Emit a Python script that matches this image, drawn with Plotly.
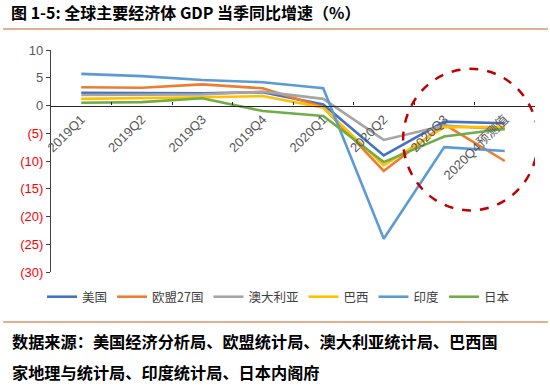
import plotly.graph_objects as go

quarters = ["2019Q1", "2019Q2", "2019Q3", "2019Q4", "2020Q1", "2020Q2", "2020Q3", "2020Q4预测值"]
us = [2.3, 2.3, 2.2, 2.4, 0.2, -9.0, -2.9, -3.2]
eu27 = [3.3, 3.2, 3.8, 3.1, -0.3, -11.8, -3.4, -10.0]
australia = [1.9, 1.9, 2.0, 2.5, 1.2, -6.2, -3.6, -4.3]
brazil = [1.2, 1.3, 1.5, 1.7, -0.4, -10.8, -3.9, -3.9]
india = [5.7, 5.3, 4.6, 4.2, 3.1, -24.0, -7.5, -8.2]
japan = [0.5, 0.6, 1.3, -1.0, -1.9, -10.2, -5.6, -4.2]

series = [
    ("美国", us, "#4472C4"),
    ("欧盟27国", eu27, "#ED7D31"),
    ("澳大利亚", australia, "#A5A5A5"),
    ("巴西", brazil, "#FFC000"),
    ("印度", india, "#5B9BD5"),
    ("日本", japan, "#70AD47"),
]

ytick_vals = [10, 5, 0, -5, -10, -15, -20, -25, -30]
ytick_text = ["10", "5", "0"] + [
    '<span style="color:#FF0000">(%d)</span>' % abs(v) for v in ytick_vals[3:]
]

fig = go.Figure()
for name, vals, color in series:
    fig.add_trace(go.Scatter(
        x=quarters, y=vals, name=name, mode="lines",
        line=dict(color=color, width=2.6),
    ))

fig.update_layout(
    width=550, height=389,
    margin=dict(l=51, r=15, t=50, b=117, autoexpand=False),
    paper_bgcolor="white", plot_bgcolor="white",
    font=dict(family="Liberation Sans, Noto Sans CJK SC", color="#595959"),
    showlegend=True,
    legend=dict(
        orientation="h", x=-0.0185, xanchor="left", y=-0.113, yanchor="middle",
        font=dict(size=12.5, color="#404040", family="Noto Sans CJK SC"),
        itemwidth=30, tracegroupgap=0,
    ),
    xaxis=dict(
        type="category", range=[-0.5, 7.5],
        anchor="free", position=0.75, automargin=False,
        showline=True, linecolor="#262626", linewidth=1.2,
        ticks="inside", ticklen=3, tickcolor="#262626",
        tickson="boundaries",
        tickangle=-45,
        tickfont=dict(size=13, color="#595959", family="Liberation Sans, Noto Sans CJK SC"),
        showgrid=False, zeroline=False,
    ),
    yaxis=dict(
        range=[-30, 10], automargin=False,
        tickvals=ytick_vals, ticktext=ytick_text,
        showline=True, linecolor="#404040", linewidth=1.2,
        ticks="outside", ticklen=4, tickcolor="#404040",
        tickfont=dict(size=13, color="#595959", family="Liberation Sans"),
        showgrid=False, zeroline=False,
    ),
)

# dashed highlight ellipse
fig.add_shape(type="circle", xref="x", yref="y",
              x0=5.32, x1=7.55, y0=-18.9, y1=6.6,
              line=dict(color="#C00000", width=2.5, dash="dash"))

# rules
fig.add_shape(type="line", xref="paper", yref="paper",
              x0=-0.099, x1=1.027, y0=1.0946, y1=1.0946,
              line=dict(color="#E6B08E", width=2))
fig.add_shape(type="line", xref="paper", yref="paper",
              x0=-0.099, x1=1.027, y0=-0.225, y1=-0.225,
              line=dict(color="#E6B08E", width=2))

fig.add_annotation(
    xref="paper", yref="paper", x=-0.0847, y=1.1712, xanchor="left", yanchor="middle",
    text="<b>图 1-5: 全球主要经济体 GDP 当季同比增速（%）</b>", showarrow=False,
    font=dict(size=16, color="#000000", family="Noto Sans CJK SC"),
    borderpad=0,
)
fig.add_annotation(
    xref="paper", yref="paper", x=-0.0847, y=-0.311, xanchor="left", yanchor="middle",
    text="<b>数据来源：美国经济分析局、欧盟统计局、澳大利亚统计局、巴西国</b>", showarrow=False,
    font=dict(size=16.2, color="#000000", family="Noto Sans CJK SC"),
)
fig.add_annotation(
    xref="paper", yref="paper", x=-0.0847, y=-0.45, xanchor="left", yanchor="middle",
    text="<b>家地理与统计局、印度统计局、日本内阁府</b>", showarrow=False,
    font=dict(size=16.2, color="#000000", family="Noto Sans CJK SC"),
)

fig.write_html("out.html", config={"displayModeBar": False},
               post_script="document.body.style.margin='0';")
